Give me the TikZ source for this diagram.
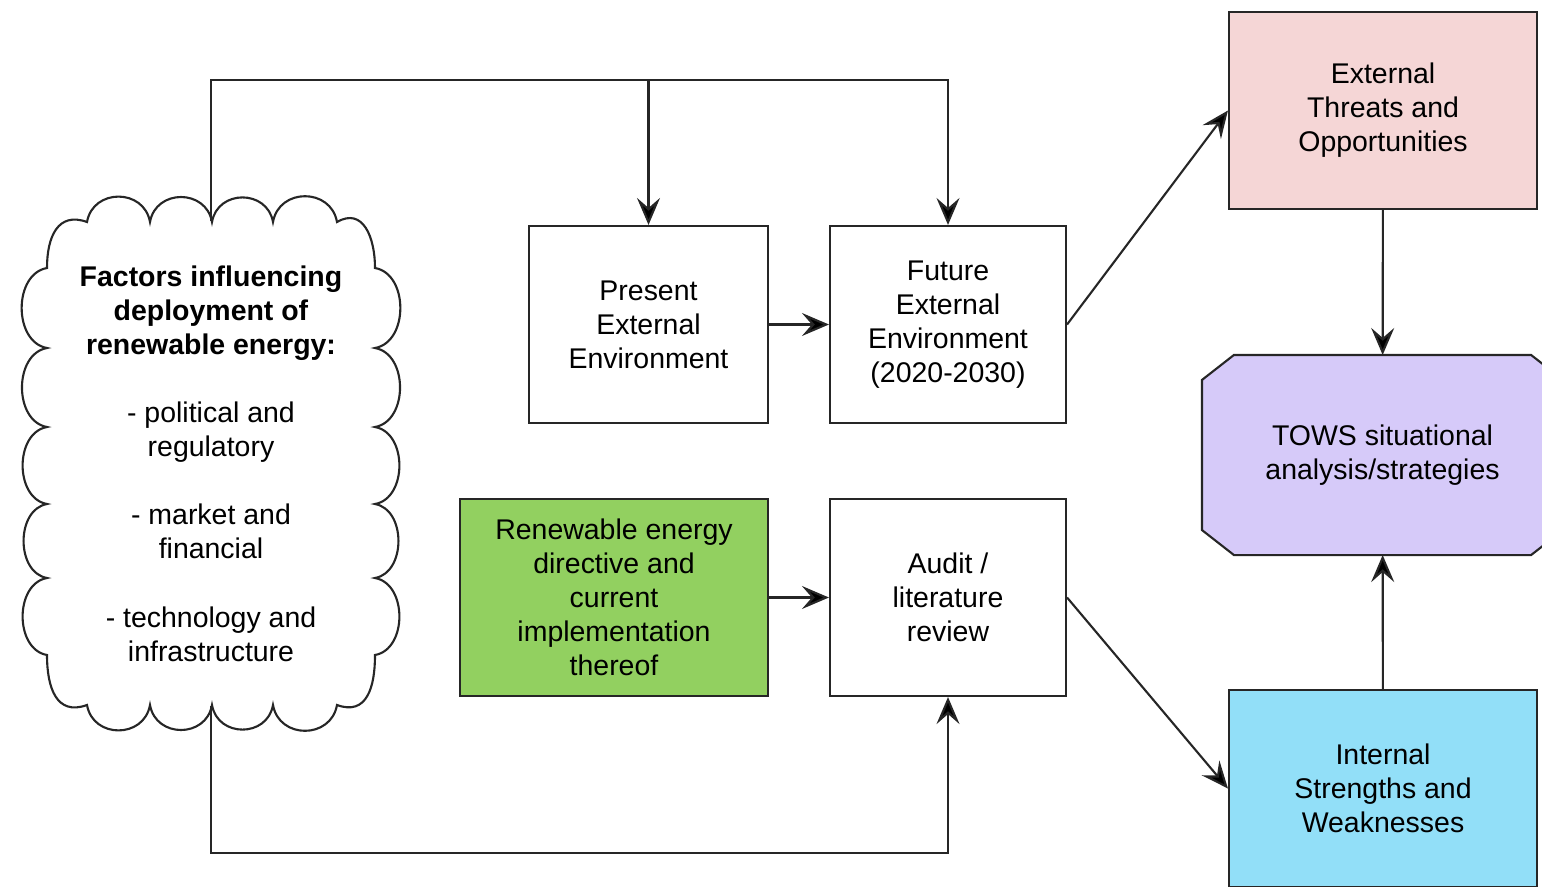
\documentclass[tikz,border=0pt]{standalone}
\usepackage{fontspec}
\setmainfont{Liberation Sans}
\usetikzlibrary{arrows.meta,backgrounds}
\definecolor{threatpink}{RGB}{245,214,214}
\definecolor{towspurple}{RGB}{214,202,249}
\definecolor{internalblue}{RGB}{146,223,248}
\definecolor{directivegreen}{RGB}{146,208,96}
\tikzset{
	box/.style={draw=black!85,line width=0.6pt,fill=white,minimum width=2.37cm,minimum height=1.97cm,align=center,inner sep=0pt,font=\fontsize{8.1}{9.7}\selectfont},
	widebox/.style={box,minimum width=3.08cm},
	link/.style={line width=0.6pt,draw=black!85},
	flow/.style={link,-{Stealth[length=2.7mm,width=2.3mm,inset=1mm,fill=black]}},
	puff/.style={line width=0.6pt,draw=black!85,fill=white}
}
\begin{document}
\begin{tikzpicture}
	\useasboundingbox (0,0) rectangle (15.42,-8.86);
	\draw[puff] (0.87,-2.22)
		\foreach \x in {1.50,2.12,2.73,3.37} {to[out=80,in=100,looseness=1.4] (\x,-2.22)}
		to[out=30,in=90,looseness=1.3] (3.75,-2.68)
		\foreach \y in {3.48,4.27,5.04,5.78,6.55} {to[out=-10,in=10,looseness=1.1] (3.75,-\y)}
		to[out=-90,in=-20,looseness=1.3] (3.37,-7.05)
		\foreach \x in {2.73,2.12,1.50,0.87} {to[out=-100,in=-80,looseness=1.4] (\x,-7.05)}
		to[out=200,in=270,looseness=1.3] (0.47,-6.55)
		\foreach \y in {5.78,5.04,4.27,3.48,2.68} {to[out=170,in=190,looseness=1.1] (0.47,-\y)}
		to[out=90,in=160,looseness=1.3] (0.87,-2.22) -- cycle;
	\node[box,draw=none,fill=none,minimum width=3.28cm,minimum height=4.83cm] (factors) at (2.11,-4.635)
		{\textbf{Factors influencing}\\\textbf{deployment of}\\\textbf{renewable energy:}\\[9.7pt]
		- political and\\regulatory\\[9.7pt]- market and\\financial\\[9.7pt]- technology and\\infrastructure};
	\node[box,minimum width=2.39cm] (present) at (6.485,-3.245) {Present\\External\\Environment};
	\node[box,minimum width=2.36cm] (future) at (9.48,-3.245) {Future\\External\\Environment\\(2020-2030)};
	\node[widebox,fill=directivegreen] (directive) at (6.14,-5.975) {Renewable energy\\directive and\\current\\implementation\\thereof};
	\node[box,minimum width=2.36cm] (audit) at (9.48,-5.975) {Audit /\\literature\\review};
	\node[widebox,fill=threatpink] (threats) at (13.83,-1.105) {External\\Threats and\\Opportunities};
	\node[box,draw=none,fill=none,minimum width=3.59cm,minimum height=1.98cm] (tows) at (13.825,-4.55) {TOWS situational\\analysis/strategies};
	\node[widebox,fill=internalblue] (internal) at (13.83,-7.885) {Internal\\Strengths and\\Weaknesses};
	\begin{scope}[on background layer]
		\filldraw[link,fill=towspurple] ([xshift=3.2mm]tows.north west) -- ([xshift=-3.2mm]tows.north east)
			-- ([yshift=-2.5mm]tows.north east) -- ([yshift=2.5mm]tows.south east)
			-- ([xshift=-3.2mm]tows.south east) -- ([xshift=3.2mm]tows.south west)
			-- ([yshift=2.5mm]tows.south west) -- ([yshift=-2.5mm]tows.north west) -- cycle;
	\end{scope}
	\coordinate (topline) at (0,-0.80);
	\coordinate (botline) at (0,-8.53);
	\draw[flow] (factors.north) -- (factors.north |- topline) -| (future.north);
	\draw[flow] (present.north |- topline) -- (present.north);
	\draw[flow] (factors.south) -- (factors.south |- botline) -| (audit.south);
	\draw[flow] (present) -- (future);
	\draw[flow] (directive) -- (audit);
	\draw[flow] (future.east) -- (threats.west);
	\draw[flow] (audit.east) -- (internal.west);
	\draw[flow] (threats) -- (tows);
	\draw[flow] (internal) -- (tows);
\end{tikzpicture}
\end{document}
